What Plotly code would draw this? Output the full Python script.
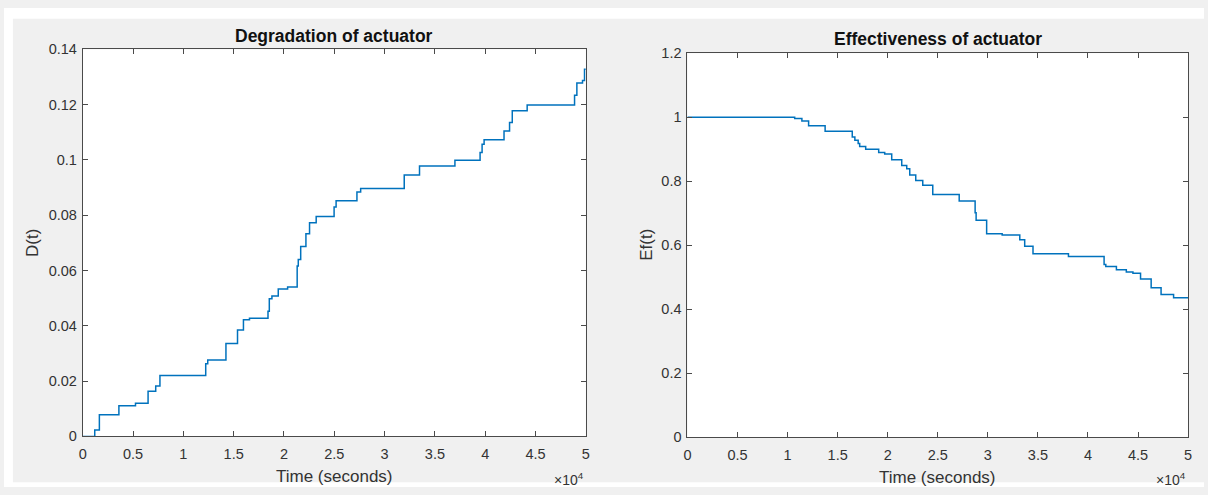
import plotly.graph_objects as go

# ---------------- data ----------------
time_deg = [0, 1190, 1650, 3590, 5240, 6490, 7250, 7670, 12220, 12420, 14230, 15380, 15970,
            16570, 18410, 18540, 18800, 19430, 20360, 21310, 21420, 21660, 22180, 22540,
            23200, 24980, 25180, 27250, 27620, 31950, 33470, 36990, 39490, 39690, 39890,
            41870, 42420, 42690, 44170, 48880, 49110, 49670, 49870, 50000]
degradation = [0, 0.0023, 0.0078, 0.0111, 0.0120, 0.0163, 0.0182, 0.0220, 0.0263, 0.0276,
               0.0336, 0.0385, 0.0422, 0.0427, 0.0453, 0.0498, 0.0508, 0.0533, 0.0540, 0.0616,
               0.0640, 0.0687, 0.0733, 0.0773, 0.0795, 0.0830, 0.0852, 0.0884, 0.0897, 0.0945,
               0.0978, 0.0999, 0.1027, 0.1057, 0.1073, 0.1105, 0.1135, 0.1178, 0.1199, 0.1234,
               0.1278, 0.1287, 0.1328, 0.1328]

time_eff = [0, 10710, 11430, 12100, 13750, 16460, 16720, 17050, 17200, 17800, 19100, 19700,
            20400, 21400, 21900, 22200, 22800, 23500, 24500, 27140, 28730, 28830, 29880,
            31430, 33190, 33680, 34510, 38050, 41610, 41780, 42840, 43830, 44490, 45250,
            46310, 47300, 48550, 50000]
effectiveness = [1, 0.996, 0.988, 0.973, 0.956, 0.938, 0.928, 0.918, 0.908, 0.900, 0.890,
                 0.885, 0.867, 0.849, 0.839, 0.819, 0.802, 0.787, 0.758, 0.738, 0.701, 0.678,
                 0.636, 0.632, 0.617, 0.597, 0.573, 0.565, 0.540, 0.533, 0.523, 0.516, 0.512,
                 0.494, 0.467, 0.446, 0.436, 0.436]

x_tickvals = [0, 5000, 10000, 15000, 20000, 25000, 30000, 35000, 40000, 45000, 50000]
x_ticktext = ["0", "0.5", "1", "1.5", "2", "2.5", "3", "3.5", "4", "4.5", "5"]
y1_tickvals = [0, 0.02, 0.04, 0.06, 0.08, 0.10, 0.12, 0.14]
y1_ticktext = ["0", "0.02", "0.04", "0.06", "0.08", "0.1", "0.12", "0.14"]
y2_tickvals = [0, 0.2, 0.4, 0.6, 0.8, 1.0, 1.2]
y2_ticktext = ["0", "0.2", "0.4", "0.6", "0.8", "1", "1.2"]

# ---------------- figure ----------------
W, H = 1208, 495
LINE = "#0072BD"
FRAME = "#4a4a4a"
TXT = "#333333"
FONT = "Liberation Sans, Arial, sans-serif"

fig = go.Figure()
fig.add_trace(go.Scatter(x=time_deg, y=degradation, mode="lines", line_shape="hv",
                         line=dict(color=LINE, width=1.5), xaxis="x", yaxis="y",
                         showlegend=False, hoverinfo="skip"))
fig.add_trace(go.Scatter(x=time_eff, y=effectiveness, mode="lines", line_shape="hv",
                         line=dict(color=LINE, width=1.5), xaxis="x2", yaxis="y2",
                         showlegend=False, hoverinfo="skip"))

def px(x):
    return x / W

def py(y):
    return 1 - y / H

axis_common = dict(showgrid=False, zeroline=False, showline=True, linecolor=FRAME, linewidth=1,
                   mirror="ticks", ticks="inside", ticklen=5, tickwidth=1, tickcolor=FRAME,
                   tickfont=dict(family=FONT, size=14.5, color=TXT), fixedrange=True)

fig.update_layout(
    width=W, height=H,
    margin=dict(l=0, r=0, t=0, b=0),
    paper_bgcolor="#f0f0f0",
    plot_bgcolor="white",
    font=dict(family=FONT, color=TXT),
    xaxis=dict(domain=[px(79.3), px(585.7)], range=[0, 50000], tickvals=x_tickvals,
               ticktext=x_ticktext, anchor="y", ticklabelstandoff=4, **axis_common),
    yaxis=dict(domain=[py(442.7), py(42.7)], range=[0, 0.14], tickvals=y1_tickvals,
               ticktext=y1_ticktext, anchor="x", ticklabelstandoff=2, **axis_common),
    xaxis2=dict(domain=[px(688), px(1192)], range=[0, 50000], tickvals=x_tickvals,
                ticktext=x_ticktext, anchor="y2", ticklabelstandoff=4, **axis_common),
    yaxis2=dict(domain=[py(443.5), py(46.7)], range=[0, 1.2], tickvals=y2_tickvals,
                ticktext=y2_ticktext, anchor="x2", ticklabelstandoff=2, **axis_common),
)

# white border strips (top, left, bottom) like the source screenshot
fig.add_shape(type="rect", xref="paper", yref="paper", x0=0, x1=1, y0=py(11), y1=1,
              fillcolor="white", line_width=0, layer="below")
fig.add_shape(type="rect", xref="paper", yref="paper", x0=0, x1=px(9), y0=0, y1=1,
              fillcolor="white", line_width=0, layer="below")
fig.add_shape(type="rect", xref="paper", yref="paper", x0=0, x1=1, y0=0, y1=py(490),
              fillcolor="white", line_width=0, layer="below")

ann = []
def text(x, y, s, size, bold=False, angle=0, xanchor="center", color="#111111"):
    ann.append(dict(x=px(x), y=py(y), xref="paper", yref="paper", text=("<b>%s</b>" % s) if bold else s,
                    showarrow=False, font=dict(family=FONT, size=size, color=color),
                    textangle=angle, xanchor=xanchor, yanchor="middle"))

text(332.5, 29, "Degradation of actuator", 17.5, bold=True)
text(940, 32, "Effectiveness of actuator", 17.5, bold=True)
text(332.5, 484, "Time (seconds)", 17, color=TXT)
text(940, 485, "Time (seconds)", 17, color=TXT)
text(28, 243, "D(t)", 17, angle=-90, color=TXT)
text(646, 245, "Ef(t)", 17, angle=-90, color=TXT)
text(586, 487, "×10<sup>4</sup>", 14, xanchor="right", color=TXT)
text(1192, 487, "×10<sup>4</sup>", 14, xanchor="right", color=TXT)
fig.update_layout(annotations=ann)

fig.write_html("out.html")
